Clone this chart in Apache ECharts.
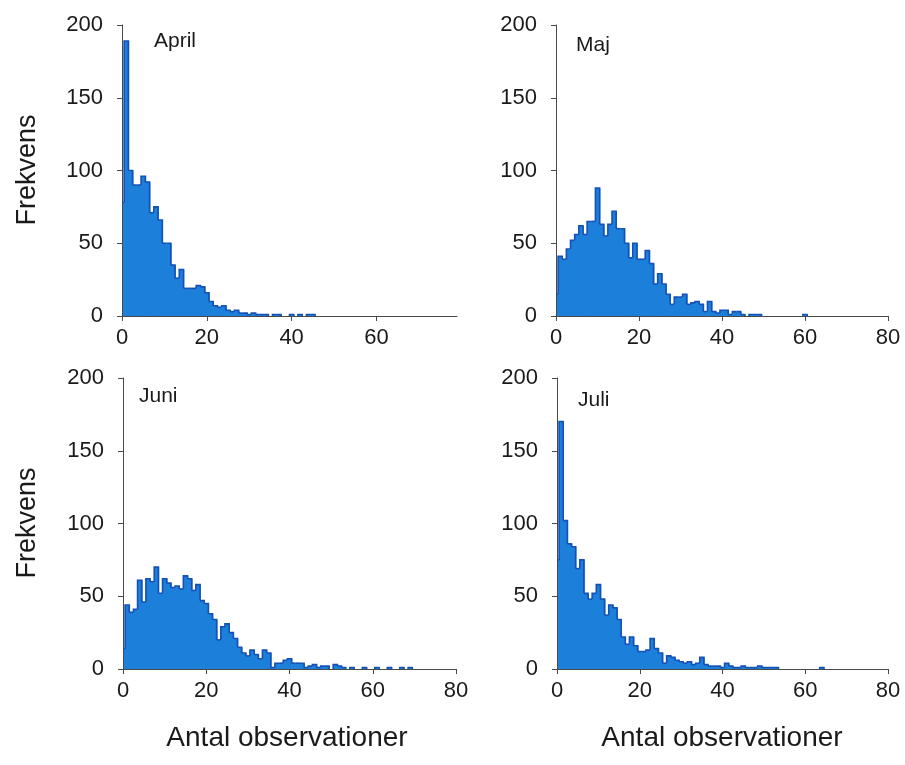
<!DOCTYPE html>
<html>
<head>
<meta charset="utf-8">
<script src="https://cdn.jsdelivr.net/npm/echarts@6/dist/echarts.min.js"></script>
<style>
  html, body { margin: 0; padding: 0; background: #ffffff; }
  #chart { width: 905px; height: 765px; }
</style>
</head>
<body>
<div id="chart"></div>
<script>
// Frequency of observation counts per site, one histogram per month (bin width 1).
const monthNames = ['April', 'Maj', 'Juni', 'Juli'];

const aprilCounts = [78, 189, 100, 90, 90, 96, 92, 71, 75, 66,
  50, 50, 35, 26, 32, 19, 19, 19, 21, 20,
  16, 10, 7, 6, 7, 4, 3, 4, 2, 2,
  1, 2, 1, 1, 1, 0, 1, 1, 0, 0,
  1, 0, 1, 0, 1, 1];

const majCounts = [15, 41, 39, 46, 52, 56, 62, 56, 65, 65,
  88, 63, 55, 63, 72, 60, 60, 50, 40, 50,
  39, 39, 45, 36, 22, 29, 22, 15, 8, 13,
  13, 15, 8, 9, 10, 8, 3, 10, 3, 2,
  4, 4, 1, 3, 3, 1, 0, 1, 1, 1,
  0, 0, 0, 0, 0, 0, 0, 0, 0, 0,
  1];

const juniCounts = [14, 44, 39, 41, 61, 46, 62, 60, 70, 52,
  62, 59, 56, 57, 55, 64, 62, 54, 58, 47,
  45, 38, 34, 20, 29, 31, 25, 21, 15, 11,
  9, 13, 10, 7, 13, 11, 1, 4, 4, 6,
  7, 4, 4, 4, 1, 2, 3, 1, 2, 2,
  0, 3, 2, 1, 0, 1, 0, 0, 1, 0,
  0, 1, 0, 0, 1, 0, 0, 1, 0, 1];

const juliCounts = [75, 170, 102, 86, 84, 69, 75, 52, 48, 52,
  58, 48, 37, 44, 42, 34, 22, 17, 22, 16,
  12, 12, 13, 21, 14, 11, 4, 9, 8, 6,
  5, 4, 5, 3, 4, 8, 3, 2, 2, 2,
  1, 4, 2, 1, 1, 2, 1, 1, 1, 2,
  1, 1, 1, 1, 0, 0, 0, 0, 0, 0,
  0, 0, 0, 0, 1];

const xTickValues = [0, 20, 40, 60, 80];
const xTickValuesApril = [0, 20, 40, 60];
const yTickValues = [0, 50, 100, 150, 200];

const yAxisTitle = 'Frekvens';
const xAxisTitle = 'Antal observationer';

const FONT = '"Liberation Sans", Arial, sans-serif';
const TEXT = '#1a1a1a';
const FILL = '#1c80da';
const EDGE = '#1450b6';
const AXIS = '#4a4a4a';

const panels = [
  { name: monthNames[0], counts: aprilCounts, xMax: 79, xTicks: xTickValuesApril,
    grid: { left: 122, top: 25, width: 335, height: 291 }, label: [154, 31] },
  { name: monthNames[1], counts: majCounts, xMax: 80, xTicks: xTickValues,
    grid: { left: 556, top: 25, width: 332, height: 291 }, label: [576, 35] },
  { name: monthNames[2], counts: juniCounts, xMax: 80, xTicks: xTickValues,
    grid: { left: 123, top: 378, width: 333, height: 291 }, label: [139, 386] },
  { name: monthNames[3], counts: juliCounts, xMax: 80, xTicks: xTickValues,
    grid: { left: 557, top: 378, width: 331, height: 291 }, label: [578, 390] }
];

// Each bin k covers [k-0.5, k+0.5]; the fill is a rect (slightly widened so
// neighbouring bins join without seams) and the exposed top/side edges of the
// step outline are stroked in a darker blue.
function makeRenderer(counts) {
  return function (params, api) {
    const k = api.value(0);
    const v = api.value(1);
    if (!v) return null;
    const prev = k > 0 ? counts[k - 1] : 0;
    const next = k + 1 < counts.length ? counts[k + 1] : 0;
    const bl = api.coord([k - 0.5, 0]);
    const tr = api.coord([k + 0.5, v]);
    const yPrev = api.coord([k - 0.5, prev])[1];
    const yNext = api.coord([k + 0.5, next])[1];
    const x0 = bl[0], x1 = tr[0], yTop = tr[1];
    return {
      type: 'group',
      children: [
        {
          type: 'rect',
          shape: { x: x0, y: yTop, width: x1 - x0 + 0.8, height: bl[1] - yTop },
          style: { fill: FILL }
        },
        {
          type: 'polyline',
          shape: { points: [[x0, Math.max(yPrev, yTop)], [x0, yTop], [x1, yTop], [x1, Math.max(yNext, yTop)]] },
          style: { fill: null, stroke: EDGE, lineWidth: 1.6 }
        }
      ]
    };
  };
}

const grids = [], xAxes = [], yAxes = [], series = [], graphics = [];

panels.forEach(function (p, i) {
  grids.push(Object.assign({ containLabel: false }, p.grid));
  xAxes.push({
    type: 'value', gridIndex: i, min: 0, max: p.xMax, interval: 20, z: 5,
    axisLine: { show: true, lineStyle: { color: AXIS, width: 1 } },
    axisTick: { show: true, inside: false, length: 5, customValues: p.xTicks, lineStyle: { color: AXIS } },
    axisLabel: { customValues: p.xTicks, fontSize: 22, fontFamily: FONT, color: TEXT, margin: 11 },
    splitLine: { show: false }
  });
  yAxes.push({
    type: 'value', gridIndex: i, min: 0, max: 200, interval: 50, z: 5,
    axisLine: { show: true, lineStyle: { color: AXIS, width: 1 } },
    axisTick: { show: true, inside: false, length: 5, customValues: yTickValues, lineStyle: { color: AXIS } },
    axisLabel: { customValues: yTickValues, fontSize: 22, fontFamily: FONT, color: TEXT, margin: 19 },
    splitLine: { show: false }
  });
  series.push({
    type: 'custom', name: p.name, xAxisIndex: i, yAxisIndex: i, clip: true,
    data: p.counts.map(function (c, k) { return [k, c]; }),
    renderItem: makeRenderer(p.counts)
  });
  graphics.push({
    type: 'text', left: p.label[0], top: p.label[1],
    style: { text: p.name, font: '21px ' + FONT, fill: TEXT }
  });
});

// Shared axis titles
[170, 523].forEach(function (cy) {
  graphics.push({
    type: 'text', x: 28, y: cy, rotation: Math.PI / 2,
    style: { text: yAxisTitle, font: '27px ' + FONT, fill: TEXT, align: 'center', verticalAlign: 'middle' }
  });
});
[287, 722].forEach(function (cx) {
  graphics.push({
    type: 'text', x: cx, y: 738,
    style: { text: xAxisTitle, font: '28px ' + FONT, fill: TEXT, align: 'center', verticalAlign: 'middle' }
  });
});

const chart = echarts.init(document.getElementById('chart'), null, { renderer: 'canvas' });
chart.setOption({
  animation: false,
  backgroundColor: '#ffffff',
  grid: grids,
  xAxis: xAxes,
  yAxis: yAxes,
  series: series,
  graphic: graphics
});
</script>
</body>
</html>
